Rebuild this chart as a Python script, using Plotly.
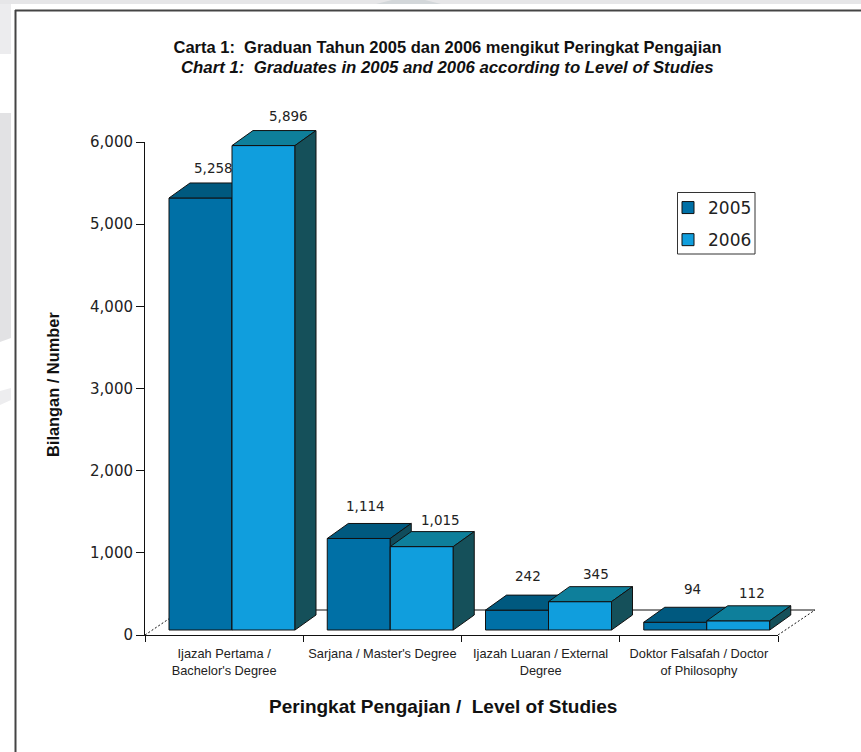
import plotly.graph_objects as go

# ---- data ----
categories = ["Ijazah Pertama /<br>Bachelor's Degree", "Sarjana / Master's Degree",
              "Ijazah Luaran / External<br>Degree", "Doktor Falsafah / Doctor<br>of Philosophy"]
years = ["2005", "2006"]
values_2005 = [5258, 1114, 242, 94]
values_2006 = [5896, 1015, 345, 112]
y_ticks = [0, 1000, 2000, 3000, 4000, 5000, 6000]

# ---- layout constants (pixels of the page) ----
W, H = 861, 752
L, R, T, B = 145, 778, 142, 635     # the axes proper
PR, PT = 835, 100                   # plot area, larger so nothing of the 3D bars is clipped
CAT_PX = (R - L) / 4
UNIT_PX = (B - T) / 6000
SHIFT_X, SHIFT_Y = 8 / CAT_PX, 5 / UNIT_PX      # bars stand this far back on the floor
DEPTH_X, DEPTH_Y = 21 / CAT_PX, 15 / UNIT_PX    # depth of a bar
BAR_W = 63 / CAT_PX
GAP = 16 / CAT_PX
WALL_X, WALL_Y = 2 * SHIFT_X + DEPTH_X, 2 * SHIFT_Y + DEPTH_Y

FRONT = ["#0070A6", "#109EDD"]
TOP = ["#00597F", "#0E7F9B"]
SIDE = ["#104C5C", "#15505A"]
BLACK = "#111111"

# label placement tweaks in pixels, relative to the back-centre of each bar top
NUDGE_X = [[-8, -14, -10, -4], [4, -2, -5, -7]]
NUDGE_Y = [[15, 17, 19, 18], [15, 12, 13, 13]]


def px(x):
    return (x - L) / (PR - L)


def py(y):
    return (B - y) / (B - PT)


fig = go.Figure()

# floor: dotted left edge on the main axes
fig.add_trace(go.Scatter(
    x=[0, WALL_X], y=[0, WALL_Y], mode="lines",
    line=dict(color=BLACK, width=1, dash="2px,2px"), cliponaxis=False, showlegend=False,
    hoverinfo="skip"))
# floor: solid back line and dotted right edge on the enlarged layer under the bars
fig.add_trace(go.Scatter(
    x=[WALL_X, 4 + WALL_X], y=[WALL_Y, WALL_Y], mode="lines",
    line=dict(color=BLACK, width=1), cliponaxis=False, showlegend=False, hoverinfo="skip",
    xaxis="x2", yaxis="y2"))
fig.add_trace(go.Scatter(
    x=[4, 4 + WALL_X], y=[0, WALL_Y], mode="lines",
    line=dict(color=BLACK, width=1, dash="2px,2px"), cliponaxis=False, showlegend=False,
    hoverinfo="skip", xaxis="x2", yaxis="y2"))

for s, (year, vals) in enumerate(zip(years, [values_2005, values_2006])):
    # one stacked subplot per series, so that 2006 covers the 2005 side faces
    xa, ya = f"x{s + 3}", f"y{s + 3}"
    lefts = [i + GAP + SHIFT_X + s * BAR_W for i in range(len(vals))]
    fig.add_trace(go.Bar(
        x=[l + BAR_W / 2 for l in lefts], y=vals, base=SHIFT_Y, width=BAR_W, name=year,
        legendgroup=year,
        marker=dict(color=FRONT[s], line=dict(color=BLACK, width=1)),
        cliponaxis=False, xaxis=xa, yaxis=ya))
    for l, v in zip(lefts, vals):
        top = v + SHIFT_Y
        fig.add_trace(go.Scatter(
            x=[l, l + DEPTH_X, l + BAR_W + DEPTH_X, l + BAR_W, l],
            y=[top, top + DEPTH_Y, top + DEPTH_Y, top, top],
            mode="lines", fill="toself", fillcolor=TOP[s], line=dict(color=BLACK, width=1),
            cliponaxis=False, showlegend=False, hoverinfo="skip", xaxis=xa, yaxis=ya))
        fig.add_trace(go.Scatter(
            x=[l + BAR_W, l + BAR_W + DEPTH_X, l + BAR_W + DEPTH_X, l + BAR_W, l + BAR_W],
            y=[top, top + DEPTH_Y, SHIFT_Y + DEPTH_Y, SHIFT_Y, top],
            mode="lines", fill="toself", fillcolor=SIDE[s], line=dict(color=BLACK, width=1),
            cliponaxis=False, showlegend=False, hoverinfo="skip", xaxis=xa, yaxis=ya))

annotations = []
for s, vals in enumerate([values_2005, values_2006]):
    for i, v in enumerate(vals):
        annotations.append(dict(
            x=i + GAP + SHIFT_X + s * BAR_W + BAR_W / 2 + DEPTH_X, y=v + SHIFT_Y + DEPTH_Y,
            xref="x2", yref="y2", text=f"{v:,}", showarrow=False, xanchor="center", yanchor="middle",
            xshift=NUDGE_X[s][i], yshift=NUDGE_Y[s][i],
            font=dict(family="DejaVu Sans", size=13.5, color="#222222")))

TXT = "Liberation Sans"
annotations += [
    dict(x=px(447), y=py(68), xref="paper", yref="paper", showarrow=False,
         xanchor="center", yanchor="middle",
         text="<b><i>Chart 1:  Graduates in 2005 and 2006 according to Level of Studies</i></b>",
         font=dict(family=TXT, size=16.8, color="#111111")),
    dict(x=px(443), y=py(706), xref="paper", yref="paper", showarrow=False,
         xanchor="center", yanchor="middle",
         text="<b>Peringkat Pengajian /  Level of Studies</b>",
         font=dict(family=TXT, size=19, color="#111111")),
    dict(x=px(53), y=py(385), xref="paper", yref="paper", showarrow=False, textangle=-90,
         xanchor="center", yanchor="middle",
         text="<b>Bilangan / Number</b>", font=dict(family=TXT, size=16.4, color="#111111")),
]

# page furniture: frame and the grey remains of the page behind it
GREY_A, GREY_B = "#ECECEE", "#E2E2E4"


def box(x0, y0, x1, y1, color):
    return dict(type="rect", xref="paper", yref="paper", x0=px(x0), x1=px(x1), y0=py(y0), y1=py(y1),
                fillcolor=color, line=dict(width=0), layer="below")


def poly(points, color):
    d = "M " + " L ".join(f"{px(x)},{py(y)}" for x, y in points) + " Z"
    return dict(type="path", xref="paper", yref="paper", path=d, fillcolor=color,
                line=dict(width=0), layer="below")


shapes = [
    box(0, 0, 861, 4, "#E6E6E8"),
    poly([(376, 4), (392, 0), (425, 0), (441, 4)], "#D3D7DA"),
    box(0, 4, 11, 54, GREY_A),
    poly([(0, 113), (11, 113), (11, 338), (0, 342)], GREY_B),
    poly([(0, 391), (11, 388), (11, 400), (0, 405)], "#EDEDEF"),
    dict(type="line", xref="paper", yref="paper", x0=px(15.5), x1=px(15.5), y0=py(10), y1=py(752),
         line=dict(color="#444444", width=2), layer="below"),
    dict(type="line", xref="paper", yref="paper", x0=px(15), x1=px(861), y0=py(10.5), y1=py(10.5),
         line=dict(color="#444444", width=2), layer="below"),
    # legend frame
    dict(type="rect", xref="paper", yref="paper", x0=px(677.5), x1=px(755), y0=py(192.5), y1=py(254),
         fillcolor="white", line=dict(color="#333333", width=1), layer="below"),
]

dom_x = (R - L) / (PR - L)
dom_y = (B - T) / (B - PT)
hidden = dict(visible=False, domain=[0, 1], range=[0, 4 / dom_x], fixedrange=True)
hidden_y = dict(visible=False, domain=[0, 1], range=[0, 6000 / dom_y], fixedrange=True)

fig.update_layout(
    width=W, height=H, autosize=False, showlegend=True,
    margin=dict(l=L, r=W - PR, t=PT, b=H - B),
    paper_bgcolor="white", plot_bgcolor="rgba(0,0,0,0)",
    title=dict(text="<b>Carta 1:  Graduan Tahun 2005 dan 2006 mengikut Peringkat Pengajian</b>",
               x=447.5 / W, xanchor="center", y=1 - 47 / H, yanchor="middle",
               font=dict(family=TXT, size=16.5, color="#111111")),
    xaxis=dict(domain=[0, dom_x], range=[0, 4], fixedrange=True, showgrid=False, zeroline=False,
               showline=True, linecolor=BLACK, linewidth=1,
               tickmode="array", tickvals=[i + 0.5 for i in range(4)], ticktext=categories,
               ticks="outside", ticklen=7, tickcolor="rgba(0,0,0,0)",
               tickfont=dict(family=TXT, size=12.8, color="#222222"),
               minor=dict(tickmode="array", tickvals=[0, 1, 2, 3, 4], ticks="outside", ticklen=6,
                          tickcolor=BLACK, showgrid=False)),
    yaxis=dict(domain=[0, dom_y], range=[0, 6000], fixedrange=True, showgrid=False, zeroline=False,
               showline=True, linecolor=BLACK, linewidth=1, tickmode="array", tickvals=y_ticks,
               tickformat=",d", ticks="outside", ticklen=8, tickcolor=BLACK,
               tickfont=dict(family="DejaVu Sans", size=15, color="#222222")),
    xaxis2=dict(anchor="y2", **hidden), yaxis2=dict(anchor="x2", **hidden_y),
    xaxis3=dict(anchor="y3", **hidden), yaxis3=dict(anchor="x3", **hidden_y),
    xaxis4=dict(anchor="y4", **hidden), yaxis4=dict(anchor="x4", **hidden_y),
    legend=dict(x=px(668), y=py(224), xanchor="left", yanchor="middle", bgcolor="rgba(0,0,0,0)",
                borderwidth=0, itemwidth=30, tracegroupgap=7, traceorder="grouped",
                font=dict(family="DejaVu Sans", size=17, color="#222222")),
    annotations=annotations, shapes=shapes,
)

fig.write_html("out.html", config={"displayModeBar": False}, post_script=(
    "document.documentElement.style.margin='0';document.body.style.margin='0';"
    "document.body.style.overflow='hidden';"))
